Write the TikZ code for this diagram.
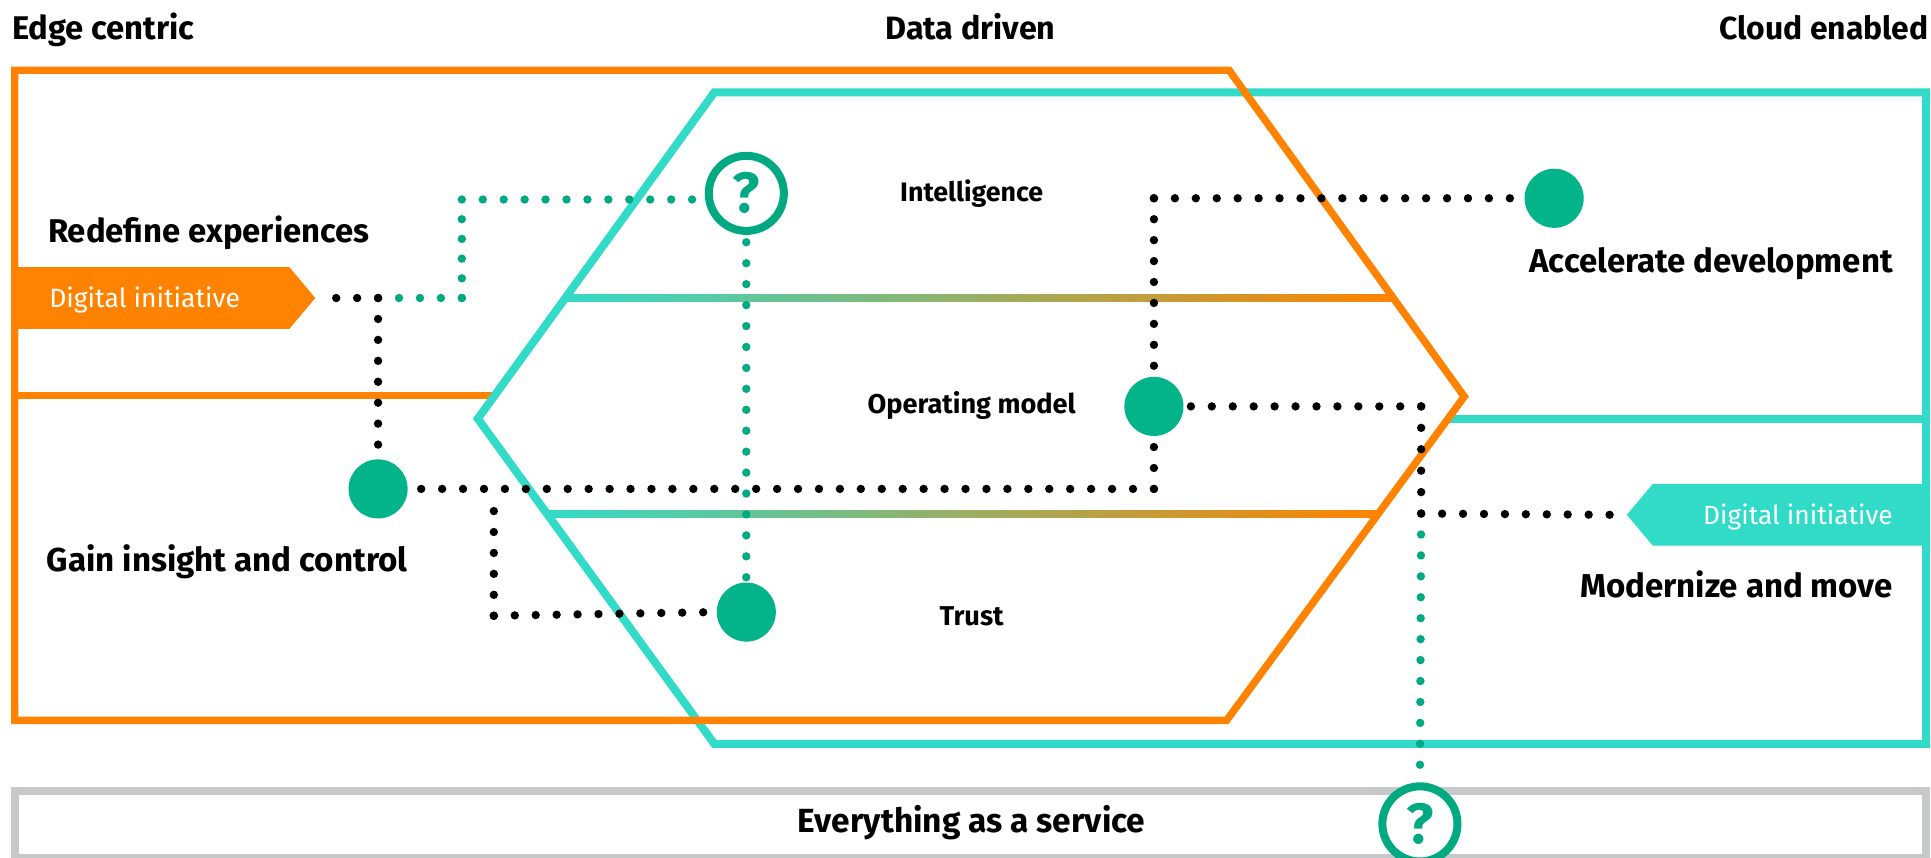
\documentclass[tikz,border=0pt]{standalone}
\usepackage{fontspec}
\setmainfont{Fira Sans}
\usepackage{graphicx}
\definecolor{hpeorange}{HTML}{FF8300}
\definecolor{hpeteal}{HTML}{32DAC8}
\definecolor{hpegreen}{HTML}{01A982}
\definecolor{dotgreen}{HTML}{03B48B}
\definecolor{bargrey}{HTML}{C6C9CA}
\newcommand{\fitw}[2]{\resizebox{#1}{!}{#2}}
\tikzset{
  lbl/.style={inner sep=0pt, outer sep=0pt},
  oline/.style={draw=hpeorange, line width=6pt, line join=miter},
  tline/.style={draw=hpeteal, line width=6.5pt, line join=miter},
  bdots/.style={draw=black, line width=6.8pt, line cap=round, dash pattern=on 0pt off 17pt},
  gdots/.style={draw=hpegreen, line width=6.8pt, line cap=round, dash pattern=on 0pt off 17pt},
  dotsp/.style={dash pattern=on 0pt off #1},
  gdisk/.style={circle, fill=dotgreen, minimum size=48pt, inner sep=0pt, outer sep=0pt},
  qcirc/.style={circle, draw=hpegreen, fill=white, line width=6.5pt, minimum size=61pt, inner sep=0pt, text=hpegreen, font=\fontsize{46}{46}\selectfont\bfseries},
}
\begin{document}
\begin{tikzpicture}[x=1pt,y=-1pt]
\useasboundingbox (0,0) rectangle (1568,696);
\fill[white] (0,0) rectangle (1568,696);

% gradient bands
\shade[left color=hpeteal, right color=hpeorange] (459,239.2) rectangle (1131,244.8);
\shade[left color=hpeteal, right color=hpeorange] (444,414.6) rectangle (1118,420.2);

% inner dividers
\draw[oline] (12,321) -- (401,321);
\draw[tline] (1176,340) -- (1564,340);

% teal (cloud enabled) shape
\draw[tline] (580,75) -- (1564,75) -- (1564,604) -- (580,604) -- (388,340) -- cycle;
% orange (edge centric) shape
\draw[oline] (12,57) -- (998,57) -- (1189,322) -- (996,585) -- (12,585) -- cycle;

% grey bar
\draw[draw=bargrey, line width=6.5pt] (12,642) rectangle (1564,696.5);

% tags
\fill[hpeorange] (9,217) -- (235,217) -- (256,242) -- (235,267) -- (9,267) -- cycle;
\coordinate (LTtip) at (256,242);
\fill[hpeteal] (1567,393) -- (1342,393) -- (1321,418) -- (1342,443) -- (1567,443) -- cycle;
\coordinate (RTtip) at (1321,418);

% circles
\node[gdisk] (G) at (307,397) {};
\node[gdisk] (A) at (1262,161) {};
\node[gdisk] (O) at (937,330) {};
\node[gdisk] (T) at (606,497) {};
\node[qcirc] (Q1) at (606,157) {?};
\node[qcirc] (Q2) at (1153,669) {?};

% junctions
\coordinate (J1) at (307,242);
\coordinate (C1) at (375,242);
\coordinate (C2) at (375,162);
\coordinate (C3) at (937,397);
\coordinate (C4) at (401,397);
\coordinate (C5) at (401,500);
\coordinate (C6) at (937,161);
\coordinate (C7) at (1154,330);
\coordinate (C8) at (1154,417);

% connectors
\draw[gdots, shorten >=8pt] (C1) -- (J1);
\draw[gdots, dotsp=16pt] (C1) -- (C2);
\draw[gdots] (C2) -- (C2 -| Q1.west);
\draw[gdots, shorten <=6pt] (Q1.south) -- (T.north);
\draw[bdots] (J1) -- ([xshift=10pt]LTtip);
\draw[bdots] (J1) -- (G.north);
\draw[bdots] (C3) -- (G.east);
\draw[bdots] (C3) -- (O.south);
\draw[bdots, shorten >=12pt] (C5) -- (C4);
\draw[bdots] (C5) -- (T.west);
\draw[bdots] (C6) -- (O.north);
\draw[bdots] (C6) -- (A.west);
\draw[bdots] (C7) -- (O.east);
\draw[bdots, dotsp=17.4pt] (C8) -- (C7);
\draw[bdots] (C8) -- ([xshift=-14pt]RTtip);
\draw[gdots, shorten <=17pt] (C8) -- (Q2.north);

% headers
\node[lbl, anchor=base west] (hEdge) at (10,32) {\fitw{148pt}{\bfseries Edge centric}};
\node[lbl, anchor=base] (hData) at (788,32) {\fitw{138pt}{\bfseries Data driven}};
\node[lbl, anchor=base east] (hCloud) at (1566,32) {\fitw{170pt}{\bfseries Cloud enabled}};

% side labels
\node[lbl, anchor=base west] (tRedef) at (39,197) {\fitw{261pt}{\bfseries Redefine experiences}};
\node[lbl, anchor=base west] (tGain) at (38,464) {\fitw{293pt}{\bfseries Gain insight and control}};
\node[lbl, anchor=base east] (tAcc) at (1537,221) {\fitw{295pt}{\bfseries Accelerate development}};
\node[lbl, anchor=base east] (tMod) at (1537,485) {\fitw{254pt}{\bfseries Modernize and move}};

% band labels
\node[lbl, anchor=base] (tInt) at (789,164) {\fitw{116pt}{\bfseries Intelligence}};
\node[lbl, anchor=base] (tOp) at (789,336) {\fitw{169pt}{\bfseries Operating model}};
\node[lbl, anchor=base] (tTrust) at (789,508) {\fitw{52pt}{\bfseries Trust}};
\node[lbl, anchor=base] (tXaaS) at (789,676) {\fitw{282pt}{\bfseries Everything as a service}};

% tag labels
\node[lbl, anchor=base west, text=white] (tagL) at (40,250) {\fitw{155pt}{Digital initiative}};
\node[lbl, anchor=base east, text=white] (tagR) at (1537,426) {\fitw{154pt}{Digital initiative}};
\end{tikzpicture}
\end{document}
